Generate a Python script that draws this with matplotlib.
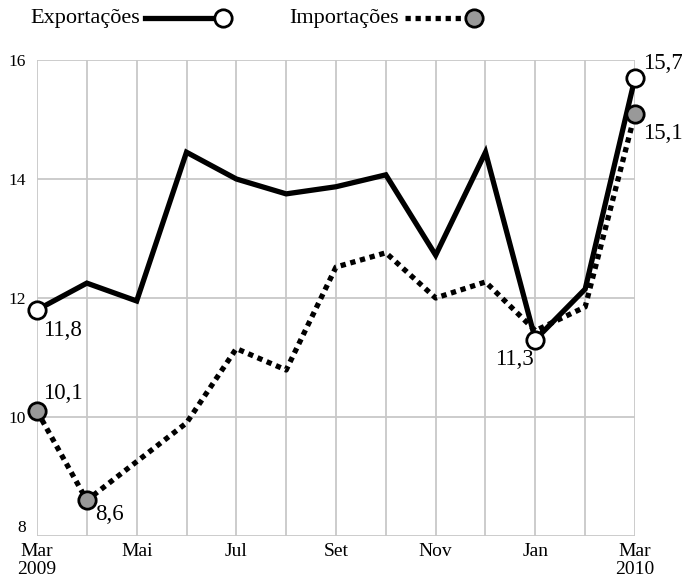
import matplotlib
matplotlib.use("Agg")
import matplotlib.pyplot as plt
from matplotlib.lines import Line2D

months = ["Mar\n2009", "Abr", "Mai", "Jun", "Jul", "Ago", "Set", "Out", "Nov", "Dez", "Jan", "Fev", "Mar\n2010"]
exportacoes = [11.8, 12.25, 11.95, 14.45, 14.0, 13.75, 13.87, 14.07, 12.72, 14.45, 11.3, 12.15, 15.7]
importacoes = [10.1, 8.6, 9.25, 9.9, 11.15, 10.79, 12.52, 12.76, 12.0, 12.27, 11.45, 11.85, 15.1]
yticks = [8, 10, 12, 14, 16]
labeled_months = [0, 2, 4, 6, 8, 10, 12]
series_names = ["Exportações", "Importações"]

plt.rcParams['font.family'] = ['Liberation Serif', 'DejaVu Serif']

W, H = 682, 585
fig = plt.figure(figsize=(W/100, H/100), dpi=100)
ax = fig.add_axes([37/W, 1-536/H, (635-37)/W, (536-60)/H])

x = list(range(len(months)))
ax.set_xlim(0, 12)
ax.set_ylim(8, 16)
for s in ax.spines.values():
    s.set_visible(False)
ax.set_xticks(x)
ax.set_xticklabels([m if i in labeled_months else "" for i, m in enumerate(months)], fontsize=14, linespacing=1.05)
ax.set_yticks(yticks)
ax.set_yticklabels([str(v) for v in yticks], fontsize=12.5)
ax.tick_params(axis="x", length=0, pad=5)
ax.tick_params(axis="y", length=0, pad=8)
ytl = ax.get_yticklabels()
ytl[0].set_va("bottom")
ax.grid(True, color="#c8c8c8", lw=1.3)
ax.set_axisbelow(True)

dot = (0, (1.0, 0.9))
ax.plot(x, importacoes, color="black", lw=3.8, ls=dot, dash_capstyle="butt", zorder=3)
ax.plot(x, exportacoes, color="black", lw=3.8, solid_joinstyle="miter", zorder=4)

mk = dict(marker="o", ms=12.5, mec="black", mew=2, ls="none", clip_on=False)
for i in [0, 1, 12]:
    ax.plot(x[i], importacoes[i], mfc="#999999", zorder=5, **mk)
for i in [0, 10, 12]:
    ax.plot(x[i], exportacoes[i], mfc="white", zorder=6, **mk)

def fmt(v):
    return f"{v:.1f}".replace(".", ",")

fs = 16.5
ax.annotate(fmt(exportacoes[0]), (x[0], exportacoes[0]), xytext=(4, -7), textcoords="offset points", ha="left", va="top", fontsize=fs)
ax.annotate(fmt(importacoes[0]), (x[0], importacoes[0]), xytext=(4, 5), textcoords="offset points", ha="left", va="bottom", fontsize=fs)
ax.annotate(fmt(importacoes[1]), (x[1], importacoes[1]), xytext=(6, -3), textcoords="offset points", ha="left", va="top", fontsize=fs)
ax.annotate(fmt(exportacoes[10]), (x[10], exportacoes[10]), xytext=(-1, -7), textcoords="offset points", ha="right", va="top", fontsize=fs)
ax.annotate(fmt(exportacoes[12]), (x[12], exportacoes[12]), xytext=(6, 3), textcoords="offset points", ha="left", va="bottom", fontsize=fs)
ax.annotate(fmt(importacoes[12]), (x[12], importacoes[12]), xytext=(6, -7), textcoords="offset points", ha="left", va="top", fontsize=fs)

# manual legend (figure pixel coords converted to fractions)
def fx(px):
    return px / W
def fy(py):
    return 1 - py / H

ly = 18
fig.text(fx(30), fy(ly + 1), series_names[0], fontsize=16, ha="left", va="center")
fig.add_artist(Line2D([fx(145), fx(220)], [fy(ly), fy(ly)], color="black", lw=3.8, transform=fig.transFigure))
fig.add_artist(Line2D([fx(223)], [fy(ly)], transform=fig.transFigure, mfc="white", zorder=5, **mk))
fig.text(fx(289), fy(ly + 1), series_names[1], fontsize=16, ha="left", va="center")
fig.add_artist(Line2D([fx(405), fx(470)], [fy(ly), fy(ly)], color="black", lw=3.8, ls=dot, dash_capstyle="butt", transform=fig.transFigure))
fig.add_artist(Line2D([fx(474)], [fy(ly)], transform=fig.transFigure, mfc="#999999", zorder=5, **mk))

fig.savefig("out.png", dpi=100)
